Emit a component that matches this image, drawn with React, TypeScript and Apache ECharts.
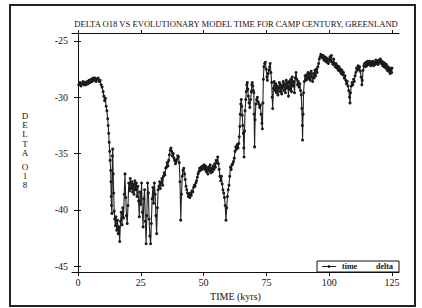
import React, { useEffect, useRef } from "react";
import * as echarts from "echarts";

const titleText = "DELTA O18 VS EVOLUTIONARY MODEL TIME FOR CAMP CENTURY, GREENLAND";
const xTicks = [0, 25, 50, 75, 100, 125];
const yTicks = [-45, -40, -35, -30, -25];

const time = [
  0.3, 0.8, 1.2, 1.6, 2.0, 2.4, 2.8, 3.2, 3.6, 4.0,
  4.4, 4.8, 5.2, 5.6, 6.0, 6.4, 6.8, 7.2, 7.6, 8.0,
  8.4, 8.8, 9.2, 9.6, 10.0, 10.3, 10.6, 10.9, 11.2, 11.5,
  11.8, 12.0, 12.2, 12.4, 12.6, 12.8, 13.0, 13.1, 13.2, 13.3,
  13.5, 13.7, 13.8, 14.0, 14.2, 14.4, 14.6, 14.9, 15.1, 15.4,
  15.7, 16.0, 16.3, 16.6, 16.9, 17.2, 17.5, 17.8, 18.1, 18.4,
  18.7, 19.0, 19.3, 19.6, 19.9, 20.2, 20.5, 20.8, 21.1, 21.4,
  21.7, 22.0, 22.3, 22.6, 22.9, 23.2, 23.5, 23.8, 24.1, 24.4,
  24.7, 25.0, 25.3, 25.6, 25.9, 26.2, 26.5, 26.8, 27.1, 27.4,
  27.7, 28.0, 28.3, 28.6, 28.9, 29.2, 29.5, 29.8, 30.1, 30.4,
  30.7, 31.0, 31.3, 31.6, 31.9, 32.2, 32.5, 32.8, 33.1, 33.4,
  33.7, 34.0, 34.3, 34.6, 34.9, 35.2, 35.5, 35.8, 36.1, 36.4,
  36.7, 37.0, 37.3, 37.6, 37.9, 38.2, 38.5, 38.8, 39.1, 39.4,
  39.7, 40.0, 40.3, 40.6, 40.9, 41.2, 41.5, 41.8, 42.1, 42.4,
  42.7, 43.0, 43.3, 43.6, 43.9, 44.2, 44.5, 44.8, 45.1, 45.4,
  45.7, 46.0, 46.3, 46.6, 46.9, 47.2, 47.5, 47.8, 48.1, 48.4,
  48.7, 49.0, 49.3, 49.6, 49.9, 50.2, 50.5, 50.8, 51.1, 51.4,
  51.7, 52.0, 52.3, 52.6, 52.9, 53.2, 53.5, 53.8, 54.1, 54.4,
  54.7, 55.0, 55.3, 55.6, 55.9, 56.2, 56.5, 56.8, 57.1, 57.4,
  57.7, 58.0, 58.3, 58.6, 58.9, 59.2, 59.5, 59.8, 60.1, 60.4,
  60.7, 61.0, 61.3, 61.6, 61.9, 62.2, 62.5, 62.8, 63.1, 63.4,
  63.7, 64.0, 64.2, 64.4, 64.6, 64.8, 65.0, 65.2, 65.4, 65.6,
  65.8, 66.0, 66.1, 66.3, 66.5, 66.8, 67.0, 67.2, 67.4, 67.6,
  67.8, 68.1, 68.4, 68.7, 69.0, 69.2, 69.4, 69.6, 69.8, 70.0,
  70.1, 70.3, 70.5, 70.8, 71.1, 71.4, 71.7, 72.0, 72.3, 72.6,
  72.9, 73.2, 73.4, 73.6, 73.8, 74.0, 74.3, 74.6, 74.9, 75.2,
  75.4, 75.7, 76.0, 76.3, 76.5, 76.8, 77.1, 77.3, 77.5, 77.8,
  78.1, 78.4, 78.7, 79.0, 79.3, 79.6, 79.9, 80.2, 80.5, 80.8,
  81.1, 81.4, 81.7, 82.0, 82.3, 82.6, 82.9, 83.2, 83.5, 83.8,
  84.1, 84.4, 84.7, 85.0, 85.3, 85.6, 85.9, 86.2, 86.5, 86.8,
  87.1, 87.4, 87.7, 88.0, 88.3, 88.6, 88.9, 89.1, 89.3, 89.4,
  89.6, 89.8, 90.1, 90.4, 90.7, 91.0, 91.3, 91.6, 91.9, 92.2,
  92.5, 92.8, 93.1, 93.4, 93.7, 94.0, 94.3, 94.6, 94.9, 95.2,
  95.5, 95.8, 96.1, 96.4, 96.7, 97.0, 97.3, 97.6, 97.9, 98.2,
  98.5, 98.8, 99.1, 99.4, 99.7, 100.0, 100.3, 100.6, 100.9, 101.2,
  101.5, 101.8, 102.1, 102.4, 102.7, 103.0, 103.3, 103.6, 103.9, 104.2,
  104.5, 104.8, 105.1, 105.4, 105.7, 106.0, 106.3, 106.6, 106.9, 107.2,
  107.5, 107.8, 108.1, 108.3, 108.5, 108.8, 109.1, 109.4, 109.7, 110.0,
  110.3, 110.6, 110.9, 111.2, 111.5, 111.8, 112.1, 112.4, 112.7, 113.0,
  113.2, 113.5, 113.8, 114.1, 114.4, 114.7, 115.0, 115.3, 115.6, 115.9,
  116.2, 116.5, 116.8, 117.1, 117.4, 117.7, 118.0, 118.3, 118.6, 118.9,
  119.2, 119.5, 119.8, 120.1, 120.4, 120.7, 121.0, 121.3, 121.6, 121.9,
  122.2, 122.5, 122.8, 123.1, 123.4, 123.7, 124.0, 124.3, 124.6, 124.9,
  125.0,
];

const delta = [
  -28.9, -28.7, -29.0, -28.8, -28.6, -28.9, -28.7, -28.9, -28.6, -28.8,
  -28.5, -28.7, -28.4, -28.6, -28.3, -28.5, -28.3, -28.6, -28.4, -28.3,
  -28.6, -28.5, -28.9, -29.1, -29.5, -29.9, -30.3, -30.1, -30.8, -31.2,
  -31.9, -32.5, -33.2, -34.0, -34.8, -35.6, -36.5, -37.5, -38.8, -39.6,
  -40.3, -35.2, -34.6, -36.8, -38.5, -40.1, -40.8, -41.4, -40.6, -41.8,
  -40.9, -42.1, -41.5, -42.8, -41.0, -40.2, -41.3, -39.8, -40.7, -38.6,
  -36.8, -38.9, -40.5, -41.2, -39.6, -37.6, -38.3, -37.2, -38.1, -37.5,
  -38.4, -37.7, -38.6, -37.4, -38.2, -37.6, -38.8, -37.9, -39.2, -40.6,
  -38.4, -39.5, -37.6, -40.2, -41.5, -39.0, -38.2, -41.0, -43.0, -40.5,
  -37.6, -38.5, -40.8, -42.3, -43.0, -41.2, -39.0, -38.0, -39.4, -37.6,
  -38.6, -40.5, -42.1, -39.8, -38.2, -37.9, -37.5, -38.1, -37.6, -37.2,
  -37.8, -37.0, -36.7, -36.9, -36.3, -36.2, -35.8, -36.1, -35.6, -35.1,
  -34.7, -34.5, -34.8, -35.2, -35.0, -35.4, -35.6, -35.9, -35.7, -35.5,
  -35.2, -35.3, -35.8, -37.5, -40.9, -38.6, -37.0, -36.5, -36.3, -36.8,
  -37.3, -37.9, -38.2, -38.5, -38.8, -38.6, -38.9, -38.5, -38.7, -38.3,
  -38.4, -38.0, -37.8, -37.9, -37.6, -37.4, -37.1, -36.8, -36.6, -36.3,
  -36.5, -36.2, -36.4, -36.1, -36.3, -36.0, -36.4, -36.1, -36.6, -36.3,
  -36.8, -36.2, -36.5, -36.0, -36.7, -36.3, -36.6, -36.1, -36.4, -35.9,
  -36.2, -35.6, -35.8, -35.3, -35.9, -36.4, -37.0, -37.4, -37.0, -37.7,
  -38.2, -38.5, -38.9, -39.6, -40.9, -39.8, -38.8, -38.2, -37.8, -37.0,
  -36.2, -36.4, -36.0, -35.9, -35.7, -35.4, -34.8, -34.4, -34.6, -34.2,
  -34.5, -34.1, -33.5, -32.6, -31.5, -30.6, -30.2, -30.8, -31.6, -32.5,
  -33.2, -34.5, -35.3, -33.0, -31.2, -30.2, -29.5, -28.9, -28.7, -29.3,
  -29.9, -30.5, -30.9, -30.2, -29.5, -28.9, -28.7, -29.0, -29.4, -29.6,
  -31.5, -34.4, -32.0, -30.6, -30.2, -30.0, -30.4, -30.6, -30.9, -30.7,
  -31.5, -32.3, -32.8, -30.5, -28.4, -27.3, -27.0, -26.9, -27.5, -28.2,
  -28.5, -27.9, -27.6, -27.3, -27.0, -27.8, -28.7, -30.0, -31.0, -29.2,
  -28.6, -29.4, -28.8, -29.6, -29.0, -29.8, -29.2, -28.7, -29.5, -28.9,
  -29.7, -29.1, -28.6, -29.4, -28.8, -29.6, -28.5, -29.2, -28.7, -29.9,
  -28.6, -29.3, -28.4, -29.5, -28.2, -29.0, -28.6, -29.6, -28.3, -27.8,
  -28.4, -28.9, -28.6, -29.1, -28.8, -29.4, -29.8, -31.0, -32.5, -33.8,
  -31.5, -29.6, -28.6, -28.1, -28.5, -28.0, -28.4, -27.8, -28.3, -27.9,
  -28.5, -27.7, -28.2, -28.6, -27.9, -28.3, -27.6, -28.1, -27.5, -27.8,
  -27.3, -27.0, -26.6, -26.4, -26.2, -26.3, -26.5, -26.3, -26.7, -26.4,
  -26.8, -26.5, -26.9, -26.6, -27.0, -26.7, -26.4, -26.8, -26.3, -26.9,
  -27.1, -26.6, -27.0, -27.3, -27.0, -27.4, -27.2, -27.6, -27.3, -27.7,
  -27.5, -27.9, -27.6, -28.0, -27.8, -28.3, -28.1, -28.5, -28.8, -28.6,
  -29.0, -29.4, -30.0, -30.5, -29.6, -29.0, -28.7, -28.9, -28.4, -28.6,
  -28.1, -27.8, -27.4, -27.6, -27.2, -27.5, -27.3, -27.7, -28.2, -28.9,
  -28.5, -27.6, -27.2, -27.0, -27.3, -26.9, -27.2, -26.8, -27.1, -27.0,
  -26.8, -27.2, -26.9, -27.1, -26.8, -27.2, -26.9, -27.1, -26.7, -27.0,
  -26.8, -27.1, -26.7, -26.9, -26.6, -27.0, -26.8, -27.2, -26.9, -27.3,
  -27.0, -27.4, -27.1, -27.6, -27.3, -27.7, -27.4, -27.9, -27.5, -27.8,
  -27.4,
];

const FONT = "'Liberation Serif', 'DejaVu Serif', serif";
const INK = "#111";

export default function App() {
  const ref = useRef<HTMLDivElement>(null);
  useEffect(() => {
    if (!ref.current) return;
    const chart = echarts.init(ref.current, null, { renderer: "svg" });
    const data = time.map((t, i) => [t, delta[i]]);
    const gridLeft = 72, gridRight = 399, gridTop = 33, gridBottom = 272;
    chart.setOption({
      animation: false,
      backgroundColor: "#fff",
      grid: { left: gridLeft, right: 422 - gridRight, top: gridTop, bottom: 308 - gridBottom, containLabel: false },
      xAxis: [
        {
          type: "value",
          min: -2.4,
          max: 127.8,
          position: "bottom",
          axisLine: { show: true, lineStyle: { color: INK, width: 1 } },
          axisTick: { show: true, length: 4, customValues: xTicks, lineStyle: { color: INK } },
          axisLabel: { customValues: xTicks, color: INK, fontFamily: FONT, fontSize: 10, margin: 5, formatter: (v: number) => String(v) },
          splitLine: { show: false },
          name: "TIME (kyrs)",
          nameLocation: "middle",
          nameGap: 13,
          nameTextStyle: { color: INK, fontFamily: FONT, fontSize: 10 },
        },
        {
          type: "value",
          min: -2.4,
          max: 127.8,
          position: "top",
          axisLine: { show: true, lineStyle: { color: INK, width: 1 } },
          axisTick: { show: true, length: 3, customValues: xTicks, lineStyle: { color: INK } },
          axisLabel: { show: false },
          splitLine: { show: false },
        },
      ],
      yAxis: [
        {
          type: "value",
          min: -45.5,
          max: -24.3,
          position: "left",
          axisLine: { show: true, lineStyle: { color: INK, width: 1 } },
          axisTick: { show: true, length: 4, customValues: yTicks, lineStyle: { color: INK } },
          axisLabel: { customValues: yTicks, color: INK, fontFamily: FONT, fontSize: 10, margin: 4, formatter: (v: number) => String(v) },
          splitLine: { show: false },
        },
        {
          type: "value",
          min: -45.5,
          max: -24.3,
          position: "right",
          axisLine: { show: true, lineStyle: { color: INK, width: 1 } },
          axisTick: { show: true, length: 3, customValues: yTicks, lineStyle: { color: INK } },
          axisLabel: { show: false },
          splitLine: { show: false },
        },
      ],
      series: [
        {
          type: "line",
          xAxisIndex: 0,
          yAxisIndex: 0,
          data,
          symbol: "circle",
          symbolSize: 3,
          showAllSymbol: true,
          lineStyle: { color: "#222", width: 1.1 },
          itemStyle: { color: "#1a1a1a" },
          silent: true,
        },
      ],
      graphic: [
        {
          type: "rect",
          shape: { x: 10, y: 5, width: 405, height: 301 },
          style: { fill: "none", stroke: "#222", lineWidth: 2 },
          silent: true,
        },
        {
          type: "text",
          x: 236,
          y: 24,
          style: { text: titleText, fill: INK, font: `8.6px ${FONT}`, align: "center", verticalAlign: "middle" },
        },
        {
          type: "text",
          x: 25,
          y: 111,
          style: { text: "D\nE\nL\nT\nA", fill: "#111", font: `9px ${FONT}`, align: "center", verticalAlign: "top", lineHeight: 9.3 },
        },
        {
          type: "text",
          x: 25,
          y: 162,
          style: { text: "O\n1\n8", fill: "#111", font: `9px ${FONT}`, align: "center", verticalAlign: "top", lineHeight: 9.2 },
        },
        {
          type: "rect",
          z: 100,
          shape: { x: 317, y: 261, width: 82, height: 11 },
          style: { fill: "#fff", stroke: INK, lineWidth: 1 },
        },
        {
          type: "line",
          z: 101,
          shape: { x1: 322, y1: 266.5, x2: 336, y2: 266.5 },
          style: { stroke: INK, lineWidth: 0.9 },
        },
        {
          type: "circle",
          z: 101,
          shape: { cx: 329, cy: 266.5, r: 1.3 },
          style: { fill: INK },
        },
        {
          type: "text",
          z: 101,
          x: 342,
          y: 266.5,
          style: { text: "time", fill: INK, font: `bold 8px ${FONT}`, align: "left", verticalAlign: "middle" },
        },
        {
          type: "text",
          z: 101,
          x: 393,
          y: 266.5,
          style: { text: "delta", fill: INK, font: `bold 8px ${FONT}`, align: "right", verticalAlign: "middle" },
        },
      ],
    });
    return () => chart.dispose();
  }, []);
  return <div ref={ref} style={{ position: "fixed", left: 0, top: 0, width: 422, height: 308 }} />;
}
